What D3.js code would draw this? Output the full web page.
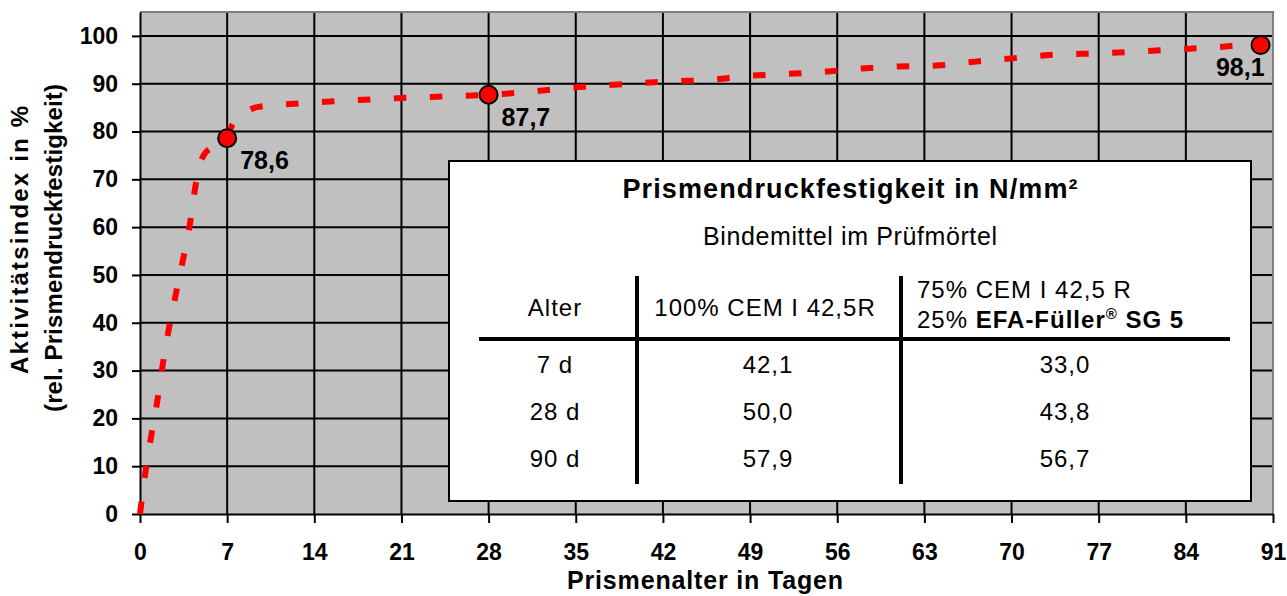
<!DOCTYPE html>
<html>
<head>
<meta charset="utf-8">
<script src="https://cdn.jsdelivr.net/npm/d3@7"></script>
<style>
  body { margin: 0; background: #fff; }
  svg { display: block; font-family: "Liberation Sans", Arial, sans-serif; }
</style>
</head>
<body>
<svg width="1287" height="596"></svg>
<script>
// measured points (age in days -> activity index in %)
var pointDays = [7, 28, 90];
var pointValues = [78.6, 87.7, 98.1];

// dashed trend curve
var curveDays = [0, 0.45, 0.9, 1.35, 1.75, 2.3, 2.9, 3.5, 4.05, 4.45, 5.1, 6, 7, 7.4, 8.2, 9.4, 12.3, 16, 21, 25, 28, 31.3, 34.2, 37, 39.9, 42.9, 45.7, 48.7, 51.6, 54.5, 58, 61, 64, 67, 70, 73, 77.6, 80.5, 83.3, 86.2, 89, 90];
var curveValues = [0, 9, 16.3, 23, 30, 38.5, 46.3, 53.8, 61.3, 68.5, 75, 77, 79, 81.3, 83.5, 85.1, 85.8, 86.4, 87, 87.4, 87.7, 88.3, 89.1, 89.6, 90.1, 90.5, 90.8, 91.6, 92, 92.4, 93.2, 93.6, 93.8, 94.6, 95.3, 96, 96.4, 96.8, 97.2, 97.6, 98.1, 98.2];

var xTicks = d3.range(0, 92, 7);
var yTicks = d3.range(0, 101, 10);

// inset table
var tableAges = ['7 d', '28 d', '90 d'];
var tableCem = ['42,1', '50,0', '57,9'];
var tableEfa = ['33,0', '43,8', '56,7'];

var svg = d3.select('svg');
var x = d3.scaleLinear().domain([0, 91]).range([140, 1273]);
var y = d3.scaleLinear().domain([0, 105]).range([514, 12]);
var fmt = function(v) { return d3.format('.1f')(v).replace('.', ','); };

// plot background
svg.append('rect')
  .attr('x', x(0)).attr('y', y(105))
  .attr('width', x(91) - x(0)).attr('height', y(0) - y(105))
  .attr('fill', '#c0c0c0');

// grid
svg.append('g').selectAll('line')
  .data(yTicks.filter(function(d) { return d > 0; }))
  .enter().append('line')
    .attr('x1', x(0)).attr('x2', x(91))
    .attr('y1', function(d) { return y(d); }).attr('y2', function(d) { return y(d); })
    .attr('stroke', '#000').attr('stroke-width', 2);
svg.append('g').selectAll('line')
  .data(xTicks.filter(function(d) { return d > 0 && d < 91; }))
  .enter().append('line')
    .attr('x1', function(d) { return x(d); }).attr('x2', function(d) { return x(d); })
    .attr('y1', y(105)).attr('y2', y(0))
    .attr('stroke', '#000').attr('stroke-width', 2);

// gray frame top/right
svg.append('path')
  .attr('d', 'M' + x(0) + ',' + y(105) + 'H' + x(91) + 'V' + y(0))
  .attr('fill', 'none').attr('stroke', '#808080').attr('stroke-width', 2);

// axes
var xAxis = svg.append('g')
  .attr('transform', 'translate(0,' + y(0) + ')')
  .call(d3.axisBottom(x).tickValues(xTicks).tickSize(9).tickPadding(21).tickSizeOuter(0));
var yAxis = svg.append('g')
  .attr('transform', 'translate(' + x(0) + ',0)')
  .call(d3.axisLeft(y).tickValues(yTicks).tickSize(8).tickPadding(14).tickSizeOuter(0));
[xAxis, yAxis].forEach(function(a) {
  a.select('.domain').attr('stroke', '#000').attr('stroke-width', 2);
  a.selectAll('.tick line').attr('stroke', '#000').attr('stroke-width', 2);
  a.selectAll('.tick text')
    .attr('fill', '#000')
    .style('font-family', '"Liberation Sans", Arial, sans-serif')
    .style('font-size', '23px').style('font-weight', 'bold');
});

// axis titles
svg.append('text')
  .attr('x', 705).attr('y', 589)
  .attr('text-anchor', 'middle')
  .attr('textLength', 276).attr('lengthAdjust', 'spacing')
  .style('font-size', '25px').style('font-weight', 'bold')
  .text('Prismenalter in Tagen');
svg.append('text')
  .attr('transform', 'translate(28,240) rotate(-90)')
  .attr('text-anchor', 'middle')
  .attr('textLength', 268).attr('lengthAdjust', 'spacing')
  .style('font-size', '24px').style('font-weight', 'bold')
  .text('Aktivitätsindex in %');
svg.append('text')
  .attr('transform', 'translate(62,248) rotate(-90)')
  .attr('text-anchor', 'middle')
  .attr('textLength', 328).attr('lengthAdjust', 'spacing')
  .style('font-size', '24px').style('font-weight', 'bold')
  .text('(rel. Prismendruckfestigkeit)');

// inset table
var tb = svg.append('g');
tb.append('rect')
  .attr('x', 449).attr('y', 161).attr('width', 802).attr('height', 340)
  .attr('fill', '#fff').attr('stroke', '#000').attr('stroke-width', 2);
tb.append('text')
  .attr('x', 850).attr('y', 198).attr('text-anchor', 'middle')
  .attr('textLength', 455).attr('lengthAdjust', 'spacing')
  .style('font-size', '27px').style('font-weight', 'bold')
  .text('Prismendruckfestigkeit in N/mm²');
tb.append('text')
  .attr('x', 850).attr('y', 245).attr('text-anchor', 'middle')
  .attr('textLength', 294).attr('lengthAdjust', 'spacing')
  .style('font-size', '25px')
  .text('Bindemittel im Prüfmörtel');

tb.selectAll('.vline').data([637, 901]).enter().append('line')
  .attr('x1', function(d) { return d; }).attr('x2', function(d) { return d; })
  .attr('y1', 276).attr('y2', 484)
  .attr('stroke', '#000').attr('stroke-width', 4);
tb.append('line')
  .attr('x1', 479).attr('x2', 1230).attr('y1', 339).attr('y2', 339)
  .attr('stroke', '#000').attr('stroke-width', 4);

var cellStyle = function(sel) {
  return sel.style('font-size', '24px').style('letter-spacing', '1px');
};
cellStyle(tb.append('text').attr('x', 555).attr('y', 316).attr('text-anchor', 'middle').text('Alter'));
cellStyle(tb.append('text').attr('x', 765).attr('y', 316).attr('text-anchor', 'middle').text('100% CEM I 42,5R'));
cellStyle(tb.append('text').attr('x', 917).attr('y', 298).text('75% CEM I 42,5 R'));
var efa = cellStyle(tb.append('text').attr('x', 917).attr('y', 328));
efa.append('tspan').text('25% ');
efa.append('tspan').style('font-weight', 'bold').text('EFA-Füller');
efa.append('tspan').style('font-weight', 'bold').style('font-size', '15px').attr('dy', -9).text('®');
efa.append('tspan').style('font-weight', 'bold').attr('dy', 9).text(' SG 5');

var rowY = d3.scaleLinear().domain([0, 2]).range([373, 467]);
[[tableAges, 555], [tableCem, 768], [tableEfa, 1065]].forEach(function(col) {
  tb.append('g').selectAll('text')
    .data(col[0])
    .enter().append('text')
      .attr('x', col[1])
      .attr('y', function(d, i) { return rowY(i); })
      .attr('text-anchor', 'middle')
      .style('font-size', '24px').style('letter-spacing', '1px')
      .text(function(d) { return d; });
});

// dashed curve
var line = d3.line()
  .x(function(d) { return x(d[0]); })
  .y(function(d) { return y(d[1]); })
  .curve(d3.curveMonotoneX);
svg.append('path')
  .datum(d3.zip(curveDays, curveValues))
  .attr('d', line)
  .attr('fill', 'none')
  .attr('stroke', '#ff0000')
  .attr('stroke-width', 6)
  .attr('stroke-dasharray', '12.5,23.5');

// markers and labels
var pts = d3.zip(pointDays, pointValues);
svg.append('g').selectAll('circle')
  .data(pts)
  .enter().append('circle')
    .attr('cx', function(d) { return x(d[0]); })
    .attr('cy', function(d) { return y(d[1]); })
    .attr('r', 9)
    .attr('fill', '#ff0000')
    .attr('stroke', '#000').attr('stroke-width', 2);
svg.append('g').selectAll('text')
  .data(pts)
  .enter().append('text')
    .attr('x', function(d, i) { return x(d[0]) + (i === 2 ? 4 : 13); })
    .attr('y', function(d) { return y(d[1]) + 31; })
    .attr('text-anchor', function(d, i) { return i === 2 ? 'end' : 'start'; })
    .style('font-size', '25px').style('font-weight', 'bold')
    .text(function(d) { return fmt(d[1]); });
</script>
</body>
</html>
